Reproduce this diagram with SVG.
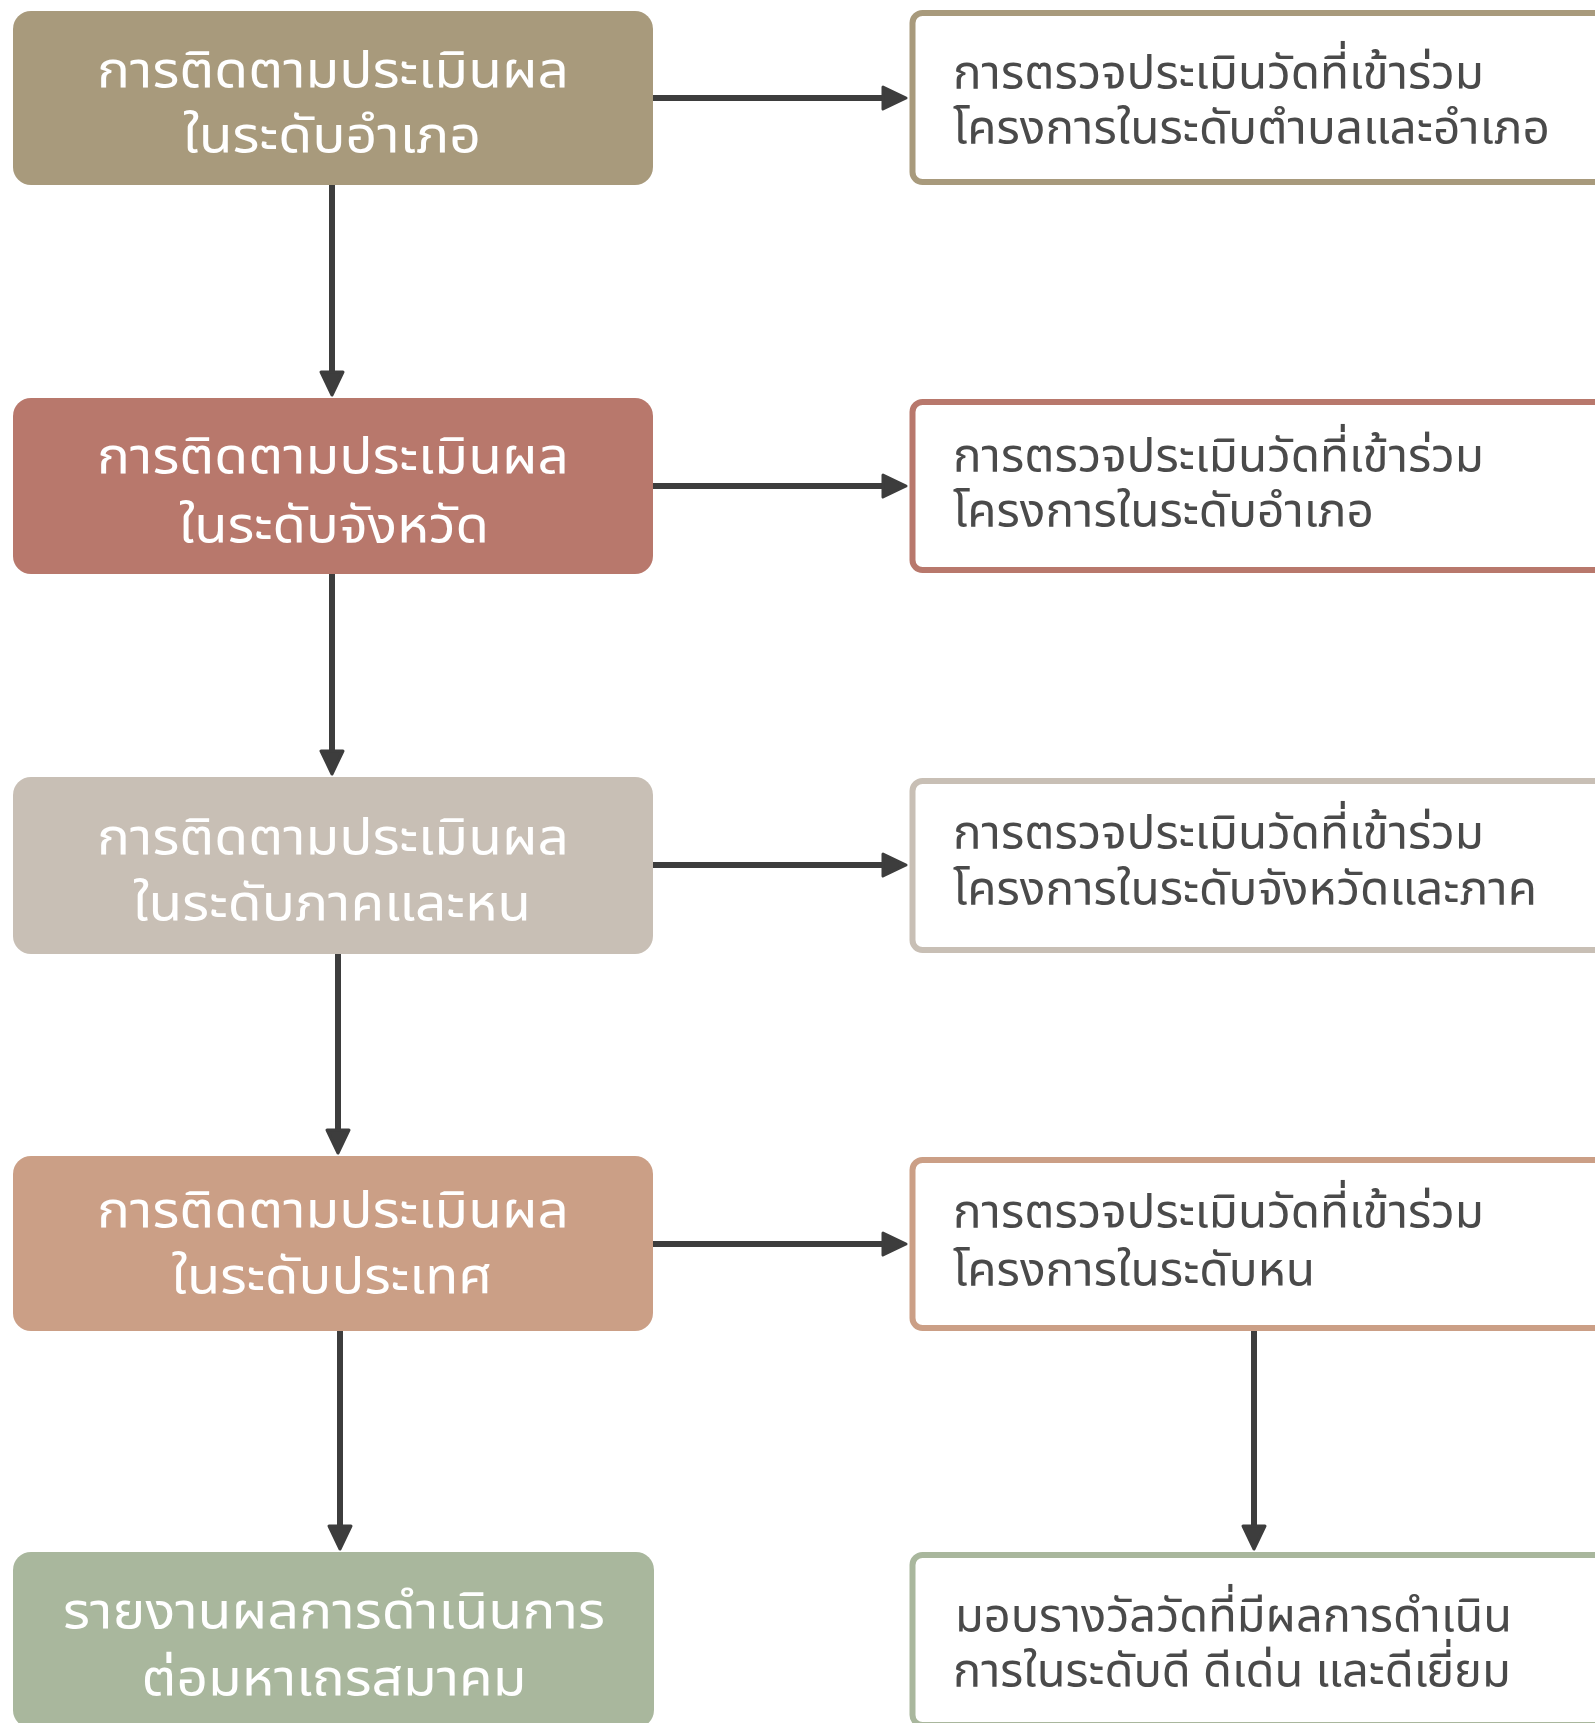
<svg xmlns="http://www.w3.org/2000/svg" width="1595" height="1723" viewBox="0 0 1595 1723">
<style>
.lt{font-family:"Noto Sans Thai UI","Noto Sans Thai","Noto Sans","Liberation Sans",sans-serif;font-size:53px;fill:#ffffff;text-anchor:middle}
.rt{font-family:"Noto Sans Thai UI","Noto Sans Thai","Noto Sans","Liberation Sans",sans-serif;font-size:50px;fill:#4a4a4a}
.rb{fill:#ffffff;stroke-width:6}
.cn{stroke:#3d3d3d;stroke-width:6;fill:none}
</style>
<defs>
<marker id="ah" viewBox="0 0 30 30" markerUnits="userSpaceOnUse" markerWidth="30" markerHeight="30" refX="14" refY="15" orient="auto">
<path d="M4,4 L27,15 L4,26 Z" fill="#3d3d3d" stroke="#3d3d3d" stroke-width="3" stroke-linejoin="round"/>
</marker>
</defs>
<rect width="1595" height="1723" fill="#ffffff"/>
<g id="connectors">
<line class="cn" x1="653" y1="98" x2="893" y2="98" marker-end="url(#ah)"/>
<line class="cn" x1="653" y1="486" x2="893" y2="486" marker-end="url(#ah)"/>
<line class="cn" x1="653" y1="865" x2="893" y2="865" marker-end="url(#ah)"/>
<line class="cn" x1="653" y1="1244" x2="893" y2="1244" marker-end="url(#ah)"/>
<line class="cn" x1="332" y1="185" x2="332" y2="382" marker-end="url(#ah)"/>
<line class="cn" x1="332" y1="574" x2="332" y2="761" marker-end="url(#ah)"/>
<line class="cn" x1="338" y1="954" x2="338" y2="1140" marker-end="url(#ah)"/>
<line class="cn" x1="340" y1="1331" x2="340" y2="1536" marker-end="url(#ah)"/>
<line class="cn" x1="1254" y1="1331" x2="1254" y2="1536" marker-end="url(#ah)"/>
</g>
<g id="n1">
<rect x="13" y="11" width="640" height="174" rx="18" fill="#a89a7c"/>
<text class="lt" x="333" y="87" textLength="472" lengthAdjust="spacingAndGlyphs">การติดตามประเมินผล</text>
<text class="lt" x="332" y="152" textLength="298" lengthAdjust="spacingAndGlyphs">ในระดับอำเภอ</text>
</g>
<g id="n2">
<rect x="13" y="398" width="640" height="176" rx="18" fill="#b8786c"/>
<text class="lt" x="333" y="473" textLength="472" lengthAdjust="spacingAndGlyphs">การติดตามประเมินผล</text>
<text class="lt" x="334" y="542" textLength="310" lengthAdjust="spacingAndGlyphs">ในระดับจังหวัด</text>
</g>
<g id="n3">
<rect x="13" y="777" width="640" height="177" rx="18" fill="#c8bfb5"/>
<text class="lt" x="333" y="854" textLength="472" lengthAdjust="spacingAndGlyphs">การติดตามประเมินผล</text>
<text class="lt" x="332" y="920" textLength="398" lengthAdjust="spacingAndGlyphs">ในระดับภาคและหน</text>
</g>
<g id="n4">
<rect x="13" y="1156" width="640" height="175" rx="18" fill="#cb9f86"/>
<text class="lt" x="333" y="1227" textLength="472" lengthAdjust="spacingAndGlyphs">การติดตามประเมินผล</text>
<text class="lt" x="332" y="1293" textLength="321" lengthAdjust="spacingAndGlyphs">ในระดับประเทศ</text>
</g>
<g id="n5">
<rect x="13" y="1552" width="641" height="176" rx="18" fill="#a9b79d"/>
<text class="lt" x="334" y="1628" textLength="542" lengthAdjust="spacingAndGlyphs">รายงานผลการดำเนินการ</text>
<text class="lt" x="334" y="1695" textLength="385" lengthAdjust="spacingAndGlyphs">ต่อมหาเถรสมาคม</text>
</g>
<g id="r1">
<rect class="rb" x="912.5" y="13" width="800" height="169" rx="10" stroke="#a89a7c"/>
<text class="rt" x="953" y="89" textLength="531" lengthAdjust="spacingAndGlyphs">การตรวจประเมินวัดที่เข้าร่วม</text>
<text class="rt" x="953" y="144" textLength="597" lengthAdjust="spacingAndGlyphs">โครงการในระดับตำบลและอำเภอ</text>
</g>
<g id="r2">
<rect class="rb" x="912.5" y="402" width="800" height="168" rx="10" stroke="#b8786c"/>
<text class="rt" x="953" y="472" textLength="531" lengthAdjust="spacingAndGlyphs">การตรวจประเมินวัดที่เข้าร่วม</text>
<text class="rt" x="953" y="527" textLength="421" lengthAdjust="spacingAndGlyphs">โครงการในระดับอำเภอ</text>
</g>
<g id="r3">
<rect class="rb" x="912.5" y="781" width="800" height="169" rx="10" stroke="#c8bfb5"/>
<text class="rt" x="953" y="849" textLength="531" lengthAdjust="spacingAndGlyphs">การตรวจประเมินวัดที่เข้าร่วม</text>
<text class="rt" x="953" y="905" textLength="584" lengthAdjust="spacingAndGlyphs">โครงการในระดับจังหวัดและภาค</text>
</g>
<g id="r4">
<rect class="rb" x="912.5" y="1160" width="800" height="168" rx="10" stroke="#cb9f86"/>
<text class="rt" x="953" y="1228" textLength="531" lengthAdjust="spacingAndGlyphs">การตรวจประเมินวัดที่เข้าร่วม</text>
<text class="rt" x="953" y="1286" textLength="362" lengthAdjust="spacingAndGlyphs">โครงการในระดับหน</text>
</g>
<g id="r5">
<rect class="rb" x="912.5" y="1555" width="800" height="170" rx="10" stroke="#a9b79d"/>
<text class="rt" x="955" y="1632" textLength="557" lengthAdjust="spacingAndGlyphs">มอบรางวัลวัดที่มีผลการดำเนิน</text>
<text class="rt" x="953" y="1687" textLength="558" lengthAdjust="spacingAndGlyphs">การในระดับดี ดีเด่น และดีเยี่ยม</text>
</g>
</svg>
